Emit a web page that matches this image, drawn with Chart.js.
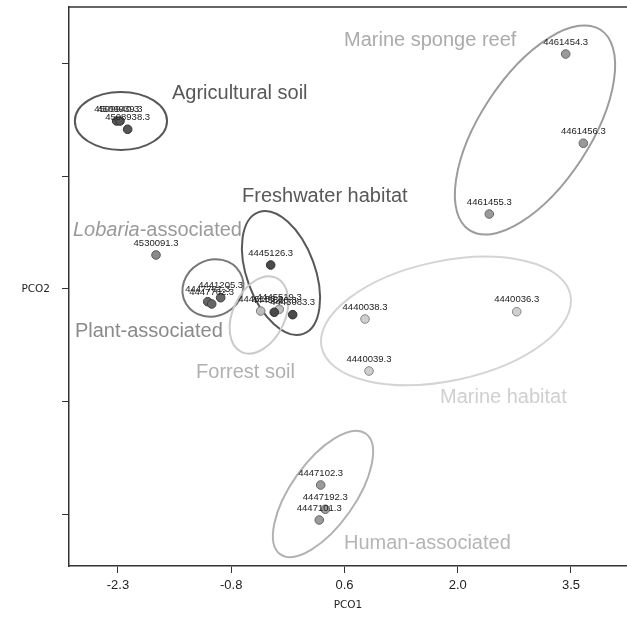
<!DOCTYPE html>
<html>
<head>
<meta charset="utf-8">
<script src="https://cdn.jsdelivr.net/npm/chart.js@4/dist/chart.umd.min.js"></script>
<style>
  html, body { margin: 0; padding: 0; background: #ffffff; }
  canvas { display: block; }
</style>
</head>
<body>
<canvas id="c" width="627" height="621"></canvas>
<script>
// ---- Groups ----
const groupNames = ['Agricultural soil', 'Lobaria-associated', 'Plant-associated', 'Freshwater habitat',
                    'Forrest soil', 'Marine habitat', 'Marine sponge reef', 'Human-associated'];

// ---- Samples ----
const sampleIds = ['4509940.3', '4509939.3', '4508938.3',
                   '4530091.3',
                   '4447761.3', '4447762.3', '4441205.3',
                   '4445126.3', '4445520.3', '4443083.3',
                   '4446153.3', '4445519.3',
                   '4440038.3', '4440036.3', '4440039.3',
                   '4461454.3', '4461456.3', '4461455.3',
                   '4447102.3', '4447192.3', '4447101.3'];
const sampleGroup = [0, 0, 0,
                     1,
                     2, 2, 2,
                     3, 3, 3,
                     4, 4,
                     5, 5, 5,
                     6, 6, 6,
                     7, 7, 7];
const pco1 = [-2.317, -2.274, -2.176,
              -1.813,
              -1.151, -1.100, -0.985,
              -0.345, -0.299, -0.063,
              -0.473, -0.235,
               0.863,  2.805,  0.914,
               3.432,  3.658,  2.454,
               0.295,  0.354,  0.277];
const pco2 = [ 2.165,  2.165,  2.058,
               0.438,
              -0.164, -0.193, -0.112,
               0.309, -0.300, -0.331,
              -0.284, -0.262,
              -0.387, -0.293, -1.057,
               3.028,  1.878,  0.966,
              -2.526, -2.839, -2.977];

// ---- Group ellipses (centre, semi-axes in PCO units, angle in degrees) ----
const ellipseCx    = [-2.262, null, -1.084, -0.213, -0.495, 1.900, 3.039,  0.325];
const ellipseCy    = [ 2.165, null,  0.013,  0.206, -0.335, -0.412, 2.049, -2.642];
const ellipseA     = [ 0.590, null,  0.400,  0.835,  0.527, 1.628, 1.540,  0.951];
const ellipseB     = [ 0.374, null,  0.360,  0.437,  0.334, 0.772, 0.705,  0.411];
const ellipseAngle = [ 0,     null,  30,    -70,     65,    12,    57,     55];

// ---- Group label anchors (left edge, middle) in PCO units ----
const groupLabelX = [-1.609, -2.876, -2.851, -0.712, -1.300, 1.823, 0.594, 0.594];
const groupLabelY = [ 2.515,  0.760, -0.545,  1.190, -1.080, -1.392, 3.200, -3.275];

// ---- Axis ticks ----
const xTickValues = [-2.3, -0.85, 0.6, 2.05, 3.5];
const xTickLabels = ['-2.3', '-0.8', '0.6', '2.0', '3.5'];
const yTickValues = [-2.9, -1.45, 0, 1.45, 2.9];
const yTickLabels = ['', '', 'PCO2', '', ''];

// ---- Styles ----
const pointFill   = ['#565656', '#8a8a8a', '#666666', '#4a4a4a', '#bdbdbd', '#cfcfcf', '#9a9a9a', '#9a9a9a'];
const pointStroke = ['#333333', '#5a5a5a', '#404040', '#2e2e2e', '#7a7a7a', '#858585', '#666666', '#666666'];
const ellipseColor = ['#585858', null, '#777777', '#585858', '#cacaca', '#d4d4d4', '#9c9c9c', '#b2b2b2'];
const labelColor   = ['#585858', '#9a9a9a', '#8a8a8a', '#585858', '#b0b0b0', '#cfcfcf', '#ababab', '#b5b5b5'];

const datasets = groupNames.map((name, g) => {
  const pts = [];
  sampleIds.forEach((id, i) => {
    if (sampleGroup[i] === g) pts.push({ x: pco1[i], y: pco2[i], id: id });
  });
  return {
    label: name,
    data: pts,
    backgroundColor: pointFill[g],
    borderColor: pointStroke[g],
    borderWidth: 1,
    pointRadius: 4.3,
    pointHoverRadius: 4.3
  };
});

const decorPlugin = {
  id: 'decor',
  beforeDatasetsDraw(chart) {
    const { ctx, chartArea, scales: { x, y } } = chart;
    const sx = x.getPixelForValue(1) - x.getPixelForValue(0);
    const sy = y.getPixelForValue(0) - y.getPixelForValue(1);
    // top frame line
    ctx.save();
    ctx.strokeStyle = '#333333';
    ctx.lineWidth = 1.5;
    ctx.beginPath();
    ctx.moveTo(chartArea.left, chartArea.top);
    ctx.lineTo(chart.width, chartArea.top);
    ctx.stroke();
    ctx.restore();
    // ellipses
    groupNames.forEach((name, g) => {
      if (ellipseCx[g] === null) return;
      ctx.save();
      ctx.beginPath();
      ctx.translate(x.getPixelForValue(ellipseCx[g]), y.getPixelForValue(ellipseCy[g]));
      ctx.scale(sx, -sy);
      ctx.rotate(ellipseAngle[g] * Math.PI / 180);
      ctx.ellipse(0, 0, ellipseA[g], ellipseB[g], 0, 0, Math.PI * 2);
      ctx.restore();
      ctx.save();
      ctx.strokeStyle = ellipseColor[g];
      ctx.lineWidth = 2;
      ctx.stroke();
      ctx.restore();
    });
    // group labels
    groupNames.forEach((name, g) => {
      ctx.save();
      ctx.fillStyle = labelColor[g];
      ctx.textBaseline = 'middle';
      ctx.textAlign = 'left';
      let px = x.getPixelForValue(groupLabelX[g]);
      const py = y.getPixelForValue(groupLabelY[g]);
      let text = name;
      if (name.indexOf('Lobaria') === 0) {
        ctx.font = 'italic 20px "Liberation Sans", Arial, sans-serif';
        ctx.fillText('Lobaria', px, py);
        px += ctx.measureText('Lobaria').width;
        text = name.slice(7);
      }
      ctx.font = '20px "Liberation Sans", Arial, sans-serif';
      ctx.fillText(text, px, py);
      ctx.restore();
    });
  },
  afterDatasetsDraw(chart) {
    const { ctx, scales: { x, y } } = chart;
    ctx.save();
    ctx.font = '9.5px "Liberation Sans", Arial, sans-serif';
    ctx.fillStyle = '#222222';
    ctx.textAlign = 'center';
    ctx.textBaseline = 'middle';
    sampleIds.forEach((id, i) => {
      ctx.fillText(id, x.getPixelForValue(pco1[i]), y.getPixelForValue(pco2[i]) - 12);
    });
    ctx.restore();
  }
};

new Chart(document.getElementById('c'), {
  type: 'scatter',
  data: { datasets },
  options: {
    responsive: false,
    animation: false,
    devicePixelRatio: 1,
    layout: { autoPadding: false, padding: { top: 7, right: 0, bottom: 0, left: 0 } },
    plugins: { legend: { display: false }, tooltip: { enabled: false } },
    scales: {
      x: {
        type: 'linear',
        min: -2.927,
        max: 4.217,
        afterBuildTicks: (s) => { s.ticks = xTickValues.map(v => ({ value: v })); },
        afterFit: (s) => { s.height = 55; s.paddingLeft = 0; s.paddingRight = 0; },
        ticks: {
          autoSkip: false,
          maxRotation: 0,
          padding: 5,
          color: '#222222',
          font: { family: '"Liberation Sans", Arial, sans-serif', size: 13 },
          callback: (v, i) => xTickLabels[i]
        },
        grid: { drawOnChartArea: false, drawTicks: true, tickLength: 7, color: '#333333', lineWidth: 1 },
        border: { display: true, color: '#333333', width: 1.5 },
        title: {
          display: true,
          text: 'PCO1',
          color: '#222222',
          font: { family: '"DejaVu Sans", Verdana, sans-serif', size: 10.5 },
          padding: { top: 0, bottom: 9 }
        }
      },
      y: {
        type: 'linear',
        min: -3.570,
        max: 3.634,
        afterBuildTicks: (s) => { s.ticks = yTickValues.map(v => ({ value: v })); },
        afterFit: (s) => { s.width = 69; s.paddingTop = 0; s.paddingBottom = 0; },
        ticks: {
          autoSkip: false,
          padding: 12,
          color: '#222222',
          font: { family: '"DejaVu Sans", Verdana, sans-serif', size: 10.5 },
          callback: (v, i) => yTickLabels[i]
        },
        grid: { drawOnChartArea: false, drawTicks: true, tickLength: 7, color: '#333333', lineWidth: 1 },
        border: { display: true, color: '#333333', width: 1.5 }
      }
    }
  },
  plugins: [decorPlugin]
});
</script>
</body>
</html>
